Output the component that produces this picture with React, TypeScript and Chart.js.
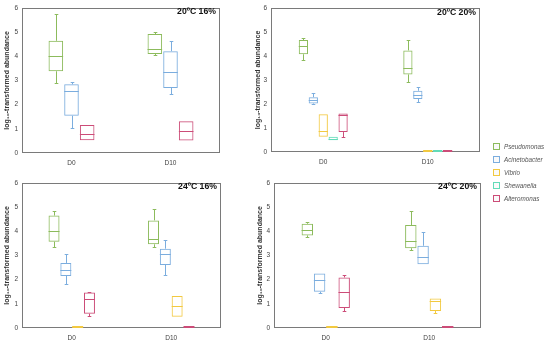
import React, { useEffect, useRef } from "react";
import { Chart, registerables } from "chart.js";

Chart.register(...registerables);

// ---------- data ----------
const categories = ["D0", "D10"];
const yMin = 0;
const yMax = 6;
const seriesNames = ["Pseudomonas", "Acinetobacter", "Vibrio", "Shewanella", "Alteromonas"];
const seriesColors = ["#8cbb5c", "#7badde", "#f2c940", "#62dbb8", "#cc4c78"];
const panelTitles = ["20ºC 16%", "20ºC 20%", "24ºC 16%", "24ºC 20%"];

// each entry: [min, q1, median, q3, max] for D0 and D10
const p1Pseudomonas = [[2.9, 3.38, 4.02, 4.64, 5.73], [4.07, 4.09, 4.31, 4.92, 5.02]];
const p1Acinetobacter = [[1.04, 1.54, 2.58, 2.84, 2.92], [2.45, 2.69, 3.37, 4.21, 4.64]];
const p1Alteromonas = [[0.53, 0.53, 0.79, 1.16, 1.16], [0.52, 0.52, 0.9, 1.31, 1.31]];

const p2Pseudomonas = [[3.83, 4.07, 4.42, 4.66, 4.76], [2.9, 3.23, 3.51, 4.23, 4.66]];
const p2Acinetobacter = [[2.0, 2.02, 2.15, 2.28, 2.45], [2.09, 2.21, 2.37, 2.55, 2.69]];
const p2Vibrio = [[0.63, 0.63, 0.86, 1.57, 1.57], [0, 0, 0, 0, 0]];
const p2Shewanella = [[0.49, 0.49, 0.55, 0.63, 0.63], [0, 0, 0, 0, 0]];
const p2Alteromonas = [[0.63, 0.83, 1.53, 1.6, 1.6], [0, 0, 0, 0, 0]];

const p3Pseudomonas = [[3.36, 3.57, 4.03, 4.65, 4.85], [3.34, 3.46, 3.7, 4.45, 4.93]];
const p3Acinetobacter = [[1.8, 2.15, 2.39, 2.69, 3.07], [2.18, 2.61, 3.07, 3.28, 3.64]];
const p3Vibrio = [[0, 0, 0, 0, 0], [0.47, 0.47, 0.89, 1.32, 1.32]];
const p3Alteromonas = [[0.51, 0.59, 1.18, 1.47, 1.49], [0, 0, 0, 0, 0]];

const p4Pseudomonas = [[3.77, 3.83, 4.05, 4.31, 4.38], [3.22, 3.3, 3.58, 4.26, 4.82]];
const p4Acinetobacter = [[1.45, 1.5, 1.99, 2.25, 2.25], [2.64, 2.64, 2.93, 3.4, 3.97]];
const p4Vibrio = [[0, 0, 0, 0, 0], [0.64, 0.7, 1.1, 1.22, 1.22]];
const p4Alteromonas = [[0.72, 0.83, 1.5, 2.09, 2.21], [0, 0, 0, 0, 0]];

// series index + stats for each panel
const panelSeries = [
  [[0, p1Pseudomonas], [1, p1Acinetobacter], [4, p1Alteromonas]],
  [[0, p2Pseudomonas], [1, p2Acinetobacter], [2, p2Vibrio], [3, p2Shewanella], [4, p2Alteromonas]],
  [[0, p3Pseudomonas], [1, p3Acinetobacter], [2, p3Vibrio], [4, p3Alteromonas]],
  [[0, p4Pseudomonas], [1, p4Acinetobacter], [2, p4Vibrio], [4, p4Alteromonas]],
];

// ---------- layout (page coordinates) ----------
const layouts = [
  { cx: 0, cy: 0, l: 22, t: 4, r: 220, b: 153, padL: 3 },
  { cx: 250, cy: 0, l: 271, t: 5, r: 480, b: 152, padL: 4 },
  { cx: 0, cy: 175, l: 22, t: 179, r: 221, b: 328, padL: 3 },
  { cx: 250, cy: 175, l: 274, t: 179, r: 481, b: 328, padL: 6 },
];

const FONT = "'Liberation Sans', Arial, sans-serif";
const X_AXIS_H = 18;

const boxPlugin = {
  id: "boxWhisker",
  beforeDatasetsDraw(chart: any) {
    const { ctx, chartArea: a } = chart;
    ctx.save();
    ctx.strokeStyle = "#7a7a7a";
    ctx.lineWidth = 1;
    const l = Math.round(a.left) + 0.5;
    const t = Math.round(a.top) + 0.5;
    const r = Math.round(a.right) - 0.5;
    const b = Math.round(a.bottom) - 0.5;
    ctx.strokeRect(l, t, r - l, b - t);
    ctx.restore();
  },
  afterDatasetsDraw(chart: any) {
    const ctx = chart.ctx;
    const ys = chart.scales.y;
    chart.data.datasets.forEach((ds: any, di: number) => {
      const meta = chart.getDatasetMeta(di);
      meta.data.forEach((el: any, i: number) => {
        const s = ds.stats[i];
        if (!s) return;
        const [mn, q1, md, q3, mx] = s;
        const x = el.x;
        const w = el.width;
        const px = Math.round(x) + 0.5;
        ctx.save();
        ctx.strokeStyle = ds.borderColor;
        if (q3 - q1 < 1e-6) {
          const y0 = ys.getPixelForValue(md);
          ctx.lineWidth = 2;
          ctx.beginPath();
          ctx.moveTo(x - w / 2, y0 - 1);
          ctx.lineTo(x + w / 2, y0 - 1);
          ctx.stroke();
          ctx.restore();
          return;
        }
        ctx.lineWidth = 1;
        const yMd = Math.round(ys.getPixelForValue(md)) + 0.5;
        ctx.beginPath();
        ctx.moveTo(x - w / 2, yMd);
        ctx.lineTo(x + w / 2, yMd);
        ctx.stroke();
        const cap = 1.8;
        const whisk = (from: number, to: number) => {
          const y1 = ys.getPixelForValue(from);
          const y2 = Math.round(ys.getPixelForValue(to)) + 0.5;
          ctx.beginPath();
          ctx.moveTo(px, y1);
          ctx.lineTo(px, y2);
          ctx.moveTo(px - cap, y2);
          ctx.lineTo(px + cap, y2);
          ctx.stroke();
        };
        if (mx - q3 > 1e-6) whisk(q3, mx);
        if (q1 - mn > 1e-6) whisk(q1, mn);
        ctx.restore();
      });
    });
  },
};

function Panel({ idx }: { idx: number }) {
  const ref = useRef<HTMLCanvasElement | null>(null);
  const L = layouts[idx];
  const W = L.r - L.cx + 2;
  const H = L.b - L.cy + X_AXIS_H;
  const yWidth = L.l - L.cx - L.padL;

  useEffect(() => {
    if (!ref.current) return;
    const datasets = panelSeries[idx].map(([si, stats]: any) => ({
      label: seriesNames[si],
      data: stats.map((s: number[]) => [s[1], s[3]]),
      stats,
      borderColor: seriesColors[si],
      backgroundColor: "rgba(255,255,255,0)",
      borderWidth: 1,
      borderSkipped: false,
      categoryPercentage: 0.475,
      barPercentage: 0.93,
    }));
    const chart = new Chart(ref.current, {
      type: "bar",
      data: { labels: categories, datasets },
      options: {
        responsive: false,
        animation: false,
        devicePixelRatio: 1,
        layout: { padding: { left: L.padL, top: L.t - L.cy, right: 2, bottom: 0 } },
        plugins: { legend: { display: false }, tooltip: { enabled: false }, title: { display: false } },
        scales: {
          x: {
            grid: { display: false, drawTicks: false },
            border: { display: false },
            ticks: { color: "#444", font: { family: FONT, size: 6.5 }, padding: 6 },
            afterFit: (s: any) => {
              s.height = X_AXIS_H;
            },
          },
          y: {
            min: yMin,
            max: yMax,
            grid: { display: false, drawTicks: false },
            border: { display: false },
            ticks: { stepSize: 1, color: "#444", font: { family: FONT, size: 6.5 }, padding: 4 },
            title: {
              display: true,
              text: "log₁₀-transformed abundance",
              color: "#333",
              font: { family: FONT, size: 7, weight: "bold" },
              padding: { top: 0, bottom: 0 },
            },
            afterFit: (s: any) => {
              s.width = yWidth;
            },
          },
        },
      } as any,
      plugins: [boxPlugin],
    });
    return () => chart.destroy();
  }, [idx]);

  return (
    <>
      <canvas
        ref={ref}
        width={W}
        height={H}
        style={{ position: "absolute", left: L.cx, top: L.cy, width: W, height: H }}
      />
      <div
        style={{
          position: "absolute",
          right: 550 - (L.r - 4),
          top: L.t + 3,
          fontFamily: FONT,
          fontWeight: "bold",
          fontSize: 8.7,
          lineHeight: "9px",
          color: "#111",
          whiteSpace: "nowrap",
        }}
      >
        {panelTitles[idx]}
      </div>
    </>
  );
}

export default function App() {
  return (
    <div
      style={{
        position: "absolute",
        left: 0,
        top: 0,
        width: 550,
        height: 343,
        background: "#fff",
        overflow: "hidden",
      }}
    >
      {[0, 1, 2, 3].map((i) => (
        <Panel key={i} idx={i} />
      ))}
      <div style={{ position: "absolute", left: 493, top: 140 }}>
        {seriesNames.map((n, i) => (
          <div
            key={n}
            style={{ display: "flex", alignItems: "center", height: 13, fontFamily: FONT }}
          >
            <span
              style={{
                display: "inline-block",
                width: 5,
                height: 5,
                border: `1px solid ${seriesColors[i]}`,
                background: "#fafafa",
                marginRight: 4,
              }}
            />
            <span style={{ fontSize: 6.3, fontStyle: "italic", color: "#555" }}>{n}</span>
          </div>
        ))}
      </div>
    </div>
  );
}
